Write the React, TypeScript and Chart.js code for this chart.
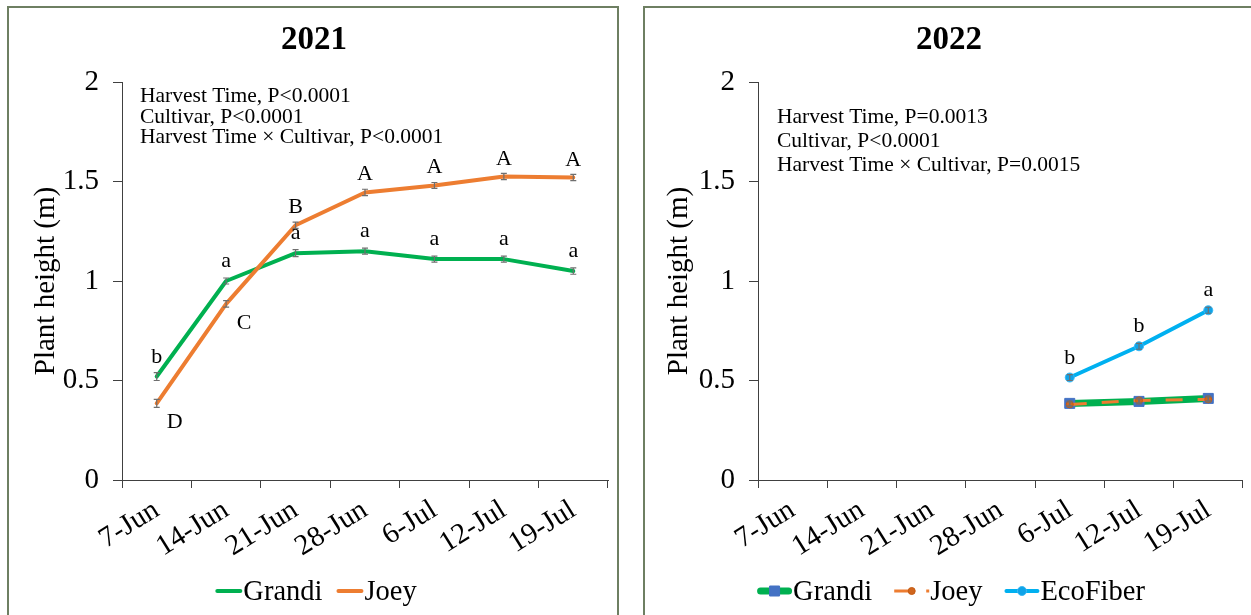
import { useEffect, useRef } from 'react';
import { Chart, registerables } from 'chart.js';

Chart.register(...registerables);

// ---- data ----
const harvestDates = ['7-Jun', '14-Jun', '21-Jun', '28-Jun', '6-Jul', '12-Jul', '19-Jul'];
const yTickValues = [0, 0.5, 1, 1.5, 2];

// 2021 season
const grandi2021 = [0.52, 1.0, 1.14, 1.15, 1.11, 1.11, 1.05];
const grandi2021Err = [0.02, 0.015, 0.018, 0.015, 0.015, 0.015, 0.016];
const grandi2021Letters = ['b', 'a', 'a', 'a', 'a', 'a', 'a'];
const joey2021 = [0.385, 0.885, 1.28, 1.445, 1.48, 1.525, 1.52];
const joey2021Err = [0.02, 0.016, 0.016, 0.016, 0.015, 0.016, 0.016];
const joey2021Letters = ['D', 'C', 'B', 'A', 'A', 'A', 'A'];
const stats2021 = [
  'Harvest Time, P<0.0001',
  'Cultivar, P<0.0001',
  'Harvest Time \u00d7 Cultivar, P<0.0001',
];

// 2022 season (sampling started in July)
const grandi2022 = [null, null, null, null, 0.385, 0.395, 0.41];
const grandi2022Err = [0, 0, 0, 0, 0.012, 0.012, 0.012];
const joey2022 = [null, null, null, null, 0.38, 0.4, 0.405];
const joey2022Err = [0, 0, 0, 0, 0.012, 0.012, 0.012];
const ecoFiber2022 = [null, null, null, null, 0.515, 0.672, 0.853];
const ecoFiber2022Err = [0, 0, 0, 0, 0.015, 0.015, 0.015];
const ecoFiber2022Letters = ['', '', '', '', 'b', 'b', 'a'];
const stats2022 = [
  'Harvest Time, P=0.0013',
  'Cultivar, P<0.0001',
  'Harvest Time \u00d7 Cultivar, P=0.0015',
];

// ---- styling ----
const FONT = '"Liberation Serif", "Times New Roman", Times, serif';
const AXIS_COLOR = '#404040';
const GREEN = '#00b050';
const ORANGE = '#ed7d31';
const SKY = '#00b0f0';

type Marker = { style: 'rect' | 'circle'; size: number; fill: string; stroke: string };
type Series = {
  name: string;
  data: (number | null)[];
  errors: number[];
  letters?: string[];
  letterPlacement?: ('above' | 'belowRight')[];
  color: string;
  width: number;
  dash?: number[];
  marker?: Marker;
  order: number;
};
type Panel = {
  title: string;
  series: Series[];
  stats: string[];
  statsX: number;
  statsTop: number;
  statsGap: number;
  statsFont: number;
  yTitlePad: number;
  padRight: number;
  legendSample: number;
  legendGap: number;
};

const allAbove = harvestDates.map(() => 'above' as const);

const panel2021: Panel = {
  title: '2021',
  series: [
    {
      name: 'Grandi', data: grandi2021, errors: grandi2021Err, letters: grandi2021Letters,
      letterPlacement: allAbove, color: GREEN, width: 4, order: 1,
    },
    {
      name: 'Joey', data: joey2021, errors: joey2021Err, letters: joey2021Letters,
      letterPlacement: ['belowRight', 'belowRight', 'above', 'above', 'above', 'above', 'above'],
      color: ORANGE, width: 4, order: 0,
    },
  ],
  stats: stats2021,
  statsX: 18,
  statsTop: 20,
  statsGap: 20.5,
  statsFont: 21.5,
  yTitlePad: 20,
  padRight: 9,
  legendSample: 27,
  legendGap: 14,
};

const panel2022: Panel = {
  title: '2022',
  series: [
    {
      name: 'Grandi', data: grandi2022, errors: grandi2022Err, color: GREEN, width: 7, order: 2,
      marker: { style: 'rect', size: 10, fill: '#4472c4', stroke: '#4472c4' },
    },
    {
      name: 'Joey', data: joey2022, errors: joey2022Err, color: ORANGE, width: 3, dash: [17, 15], order: 1,
      marker: { style: 'circle', size: 3.5, fill: '#d0661e', stroke: '#c55a11' },
    },
    {
      name: 'EcoFiber', data: ecoFiber2022, errors: ecoFiber2022Err, letters: ecoFiber2022Letters,
      letterPlacement: allAbove, color: SKY, width: 4, order: 0,
      marker: { style: 'circle', size: 4.5, fill: '#0fa3e8', stroke: '#3cb8f2' },
    },
  ],
  stats: stats2022,
  statsX: 19,
  statsTop: 41,
  statsGap: 24,
  statsFont: 21.5,
  yTitlePad: 17,
  padRight: 8,
  legendSample: 35,
  legendGap: 22,
};

function drawMarker(ctx: CanvasRenderingContext2D, x: number, y: number, m: Marker) {
  ctx.save();
  ctx.setLineDash([]);
  ctx.fillStyle = m.fill;
  ctx.strokeStyle = m.stroke;
  ctx.lineWidth = 1;
  ctx.beginPath();
  if (m.style === 'rect') {
    ctx.rect(x - m.size / 2, y - m.size / 2, m.size, m.size);
  } else {
    ctx.arc(x, y, m.size, 0, Math.PI * 2);
  }
  ctx.fill();
  ctx.stroke();
  ctx.restore();
}

function PanelChart({ panel, width, height }: { panel: Panel; width: number; height: number }) {
  const ref = useRef<HTMLCanvasElement>(null);

  useEffect(() => {
    if (!ref.current) return;

    // error bars and significance letters, drawn from the series values
    const annotations = {
      id: 'seriesAnnotations',
      afterDatasetsDraw(chart: any) {
        const { ctx } = chart;
        const yScale = chart.scales.y;
        panel.series.forEach((s, di) => {
          const meta = chart.getDatasetMeta(di);
          s.data.forEach((v, i) => {
            if (v == null) return;
            const pt = meta.data[i];
            const e = s.errors[i] || 0;
            if (e > 0) {
              const y1 = yScale.getPixelForValue(v - e);
              const y2 = yScale.getPixelForValue(v + e);
              ctx.save();
              ctx.strokeStyle = '#6f6f6f';
              ctx.lineWidth = 1.2;
              ctx.beginPath();
              ctx.moveTo(pt.x, y1);
              ctx.lineTo(pt.x, y2);
              ctx.moveTo(pt.x - 3, y1);
              ctx.lineTo(pt.x + 3, y1);
              ctx.moveTo(pt.x - 3, y2);
              ctx.lineTo(pt.x + 3, y2);
              ctx.stroke();
              ctx.restore();
            }
          });
          if (!s.letters) return;
          ctx.save();
          ctx.font = `22px ${FONT}`;
          ctx.fillStyle = '#000';
          ctx.textAlign = 'center';
          ctx.textBaseline = 'alphabetic';
          s.letters.forEach((letter, i) => {
            if (!letter || s.data[i] == null) return;
            const pt = meta.data[i];
            const upper = letter === letter.toUpperCase();
            const place = s.letterPlacement ? s.letterPlacement[i] : 'above';
            if (place === 'belowRight') {
              ctx.fillText(letter, pt.x + 18, pt.y + 25);
            } else {
              ctx.fillText(letter, pt.x, pt.y - (upper ? 12 : 14));
            }
          });
          ctx.restore();
        });
      },
    };

    // title, statistics note and legend
    const decorations = {
      id: 'panelDecorations',
      afterDraw(chart: any) {
        const { ctx, chartArea } = chart;
        ctx.save();
        ctx.fillStyle = '#000';
        ctx.textBaseline = 'alphabetic';

        ctx.font = `bold 33px ${FONT}`;
        ctx.textAlign = 'center';
        ctx.fillText(panel.title, chart.width / 2 + 1, 40.5);

        ctx.font = `${panel.statsFont}px ${FONT}`;
        ctx.textAlign = 'left';
        panel.stats.forEach((line, i) => {
          ctx.fillText(line, chartArea.left + panel.statsX, chartArea.top + panel.statsTop + i * panel.statsGap);
        });

        const fontSize = 28.5;
        ctx.font = `${fontSize}px ${FONT}`;
        const itemWidths = panel.series.map(
          (s) => panel.legendSample + 1 + ctx.measureText(s.name).width,
        );
        const total = itemWidths.reduce((a, b) => a + b, 0) + panel.legendGap * (panel.series.length - 1);
        let x = chart.width / 2 + 3 - total / 2;
        const lineY = 583;
        const textY = 592;
        panel.series.forEach((s, i) => {
          ctx.save();
          ctx.strokeStyle = s.color;
          ctx.lineWidth = s.width;
          ctx.lineCap = s.dash ? 'butt' : 'round';
          ctx.setLineDash(s.dash || []);
          ctx.beginPath();
          ctx.moveTo(x + (s.dash ? 0 : s.width / 2), lineY);
          ctx.lineTo(x + panel.legendSample - (s.dash ? 0 : s.width / 2), lineY);
          ctx.stroke();
          ctx.restore();
          if (s.marker) {
            const mx = x + panel.legendSample / 2;
            drawMarker(ctx, mx, lineY, s.marker);
          }
          ctx.fillStyle = '#000';
          ctx.textAlign = 'left';
          ctx.fillText(s.name, x + panel.legendSample + 1, textY);
          x += itemWidths[i] + panel.legendGap;
        });
        ctx.restore();
      },
    };

    const chart = new Chart(ref.current, {
      type: 'line',
      data: {
        labels: harvestDates,
        datasets: panel.series.map((s) => ({
          label: s.name,
          data: s.data,
          borderColor: s.color,
          backgroundColor: s.color,
          borderWidth: s.width,
          borderDash: s.dash || [],
          borderCapStyle: s.dash ? 'butt' : 'round',
          borderJoinStyle: 'round',
          tension: 0,
          fill: false,
          spanGaps: false,
          order: s.order,
          pointRadius: s.marker ? (s.marker.style === 'rect' ? s.marker.size / Math.SQRT2 : s.marker.size) : 0,
          pointStyle: s.marker ? s.marker.style : 'circle',
          pointBackgroundColor: s.marker ? s.marker.fill : s.color,
          pointBorderColor: s.marker ? s.marker.stroke : s.color,
          pointBorderWidth: 1,
        })) as any,
      },
      options: {
        animation: false,
        responsive: false,
        events: [],
        layout: { padding: { top: 74, left: 0, right: panel.padRight, bottom: 0 } },
        plugins: {
          legend: { display: false },
          title: { display: false },
          tooltip: { enabled: false },
        },
        scales: {
          x: {
            type: 'category',
            offset: true,
            grid: { offset: true, drawOnChartArea: false, drawTicks: true, tickLength: 8, color: AXIS_COLOR, lineWidth: 1 },
            border: { display: true, color: AXIS_COLOR, width: 1 },
            ticks: {
              font: { family: FONT, size: 29 },
              color: '#000',
              autoSkip: false,
              minRotation: 32,
              maxRotation: 32,
              padding: 5,
            },
            afterFit: (s: any) => {
              s.height = height - 472;
            },
          },
          y: {
            type: 'linear',
            min: 0,
            max: 2,
            afterBuildTicks: (s: any) => {
              s.ticks = yTickValues.map((v) => ({ value: v }));
            },
            grid: { drawOnChartArea: false, drawTicks: true, tickLength: 9, color: AXIS_COLOR, lineWidth: 1 },
            border: { display: true, color: AXIS_COLOR, width: 1 },
            ticks: {
              font: { family: FONT, size: 29 },
              color: '#000',
              padding: 14,
              callback: (v: any) => String(v),
            },
            title: {
              display: true,
              text: 'Plant height (m)',
              color: '#000',
              font: { family: FONT, size: 29 },
              padding: { top: panel.yTitlePad, bottom: 0 },
            },
            afterFit: (s: any) => {
              s.width = 113;
            },
          },
        },
      } as any,
      plugins: [annotations, decorations],
    });

    return () => chart.destroy();
  }, [panel, width, height]);

  return <canvas ref={ref} width={width} height={height} style={{ display: 'block', width, height }} />;
}

const frame: React.CSSProperties = {
  position: 'absolute',
  top: 6,
  height: 660,
  border: '2px solid #6e7f62',
  background: '#fff',
};

export default function App() {
  return (
    <div
      style={{
        position: 'fixed',
        left: 0,
        top: 0,
        width: 1251,
        height: 615,
        overflow: 'hidden',
        background: '#fff',
      }}
    >
      <div style={{ ...frame, left: 7, width: 608 }}>
        <PanelChart panel={panel2021} width={608} height={607} />
      </div>
      <div style={{ ...frame, left: 643, width: 640 }}>
        <PanelChart panel={panel2022} width={606} height={607} />
      </div>
    </div>
  );
}
